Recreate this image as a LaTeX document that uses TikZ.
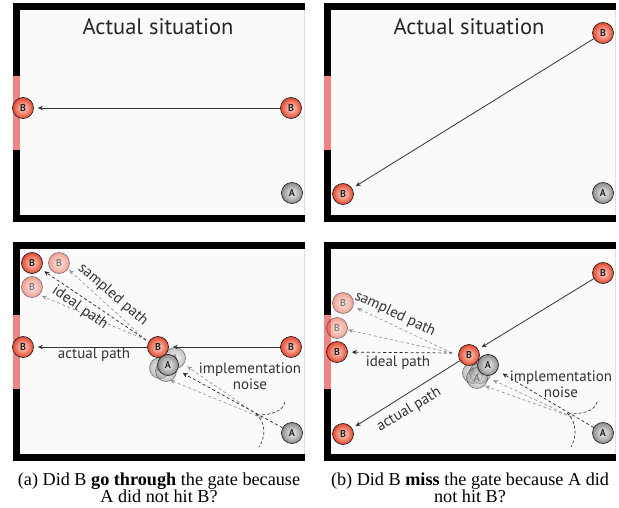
\documentclass[tikz,border=0pt]{standalone}
\usepackage{fontspec}
\setmainfont{Liberation Serif}
\newfontfamily\lab{PT Sans}
\usetikzlibrary{arrows.meta}
\definecolor{bgc}{HTML}{FAFAFA}
\definecolor{gatec}{HTML}{F08585}
\definecolor{Bin}{HTML}{FDDDD2}
\definecolor{Bout}{HTML}{E8452B}
\definecolor{Ain}{HTML}{F2F2F2}
\definecolor{Aout}{HTML}{8C8C8C}
\tikzset{
  ball/.style={circle, minimum size=21pt, inner sep=0pt, draw=black!85, line width=0.7pt,
    font=\lab\bfseries\fontsize{10}{10}\selectfont, text=black!85},
  bball/.style={ball, shading=radial, inner color=Bin, outer color=Bout},
  aball/.style={ball, shading=radial, inner color=Ain, outer color=Aout},
  faded/.style={opacity=0.5},
  solidarrow/.style={draw=black!80, line width=0.8pt, -{Stealth[length=5pt,width=4.5pt]}, shorten >=4pt},
  dblack/.style={draw=black!85, line width=0.7pt, dash pattern=on 3pt off 2.5pt, -{Stealth[length=5pt,width=4.5pt]}},
  dgray/.style={draw=black!40, line width=0.7pt, dash pattern=on 3pt off 2.5pt, -{Stealth[length=5pt,width=4.5pt]}},
  noisec/.style={draw=black!85, line width=0.6pt, dash pattern=on 3pt off 2pt},
  title/.style={font=\lab\fontsize{22.5}{22.5}\selectfont, text=black!85},
  lbl/.style={font=\lab\fontsize{15}{16}\selectfont, text=black!80, inner sep=0pt},
  captxt/.style={font=\fontsize{18.2}{17.5}\selectfont, align=center, inner sep=0pt}
}
\begin{document}
\begin{tikzpicture}[x=1pt,y=-1pt]
\useasboundingbox (0,0) rectangle (619,508);
% frames
\foreach \ox/\oy in {0/0, 311/0, 0/239, 311/239}{
  \fill[black] (13+\ox,3+\oy) rectangle (305+\ox,222+\oy);
  \fill[bgc] (20+\ox,10+\oy) rectangle (305+\ox,215+\oy);
  \fill[gatec] (13+\ox,76+\oy) rectangle (20+\ox,150+\oy);
  \draw[black!12, line width=0.6pt] (304+\ox,10+\oy) -- (304+\ox,215+\oy);
}
% ---------- panel (a) top ----------
\node[title] (ta) at (158,27) {Actual situation};
\node[bball] (a1s) at (291,108) {B};
\node[bball] (a1e) at (23,108) {B};
\node[aball] (a1a) at (292,193) {A};
\draw[solidarrow] (a1s) -- (a1e);
% ---------- panel (b) top ----------
\node[title] (tb) at (469,27) {Actual situation};
\node[bball] (b1s) at (603,33) {B};
\node[bball] (b1e) at (343,194) {B};
\node[aball] (b1a) at (603,193) {A};
\draw[solidarrow] (b1s) -- (b1e);
% ---------- panel (a) bottom ----------
\node[aball, faded] (a2g1) at (175,358) {A};
\node[aball, faded] (a2g2) at (160,368) {A};
\node[aball, faded] (a2g3) at (166,371) {A};
\node[aball] (a2ac) at (168,365) {A};
\node[bball] (a2c) at (158,347) {B};
\node[bball] (a2r) at (291,347) {B};
\node[bball] (a2l) at (23,347) {B};
\node[bball] (a2i) at (32,263) {B};
\node[bball, faded] (a2f1) at (59,263) {B};
\node[bball, faded] (a2f2) at (32,287) {B};
\node[aball] (a2a) at (292,433) {A};
\coordinate (a2p) at (146,340);
\coordinate (a2q) at (262,418);
\coordinate (a2t1) at (69,270);
\coordinate (a2t2) at (42,296);
\coordinate (a2t3) at (170,380);
\draw[solidarrow] (a2r) -- (a2c);
\draw[solidarrow] (a2c) -- (a2l);
\draw[dgray] (a2p) -- (a2t1);
\draw[dgray] (a2p) -- (a2t2);
\draw[dblack, shorten >=4pt] (a2p) -- (a2i);
\draw[dgray, shorten >=4pt] (a2q) -- (a2g1);
\draw[dgray] (a2q) -- (a2t3);
\draw[dblack, shorten >=6pt] (a2a) -- (a2ac);
\draw[noisec] (285,402) .. controls (283,411) and (272,415) .. (257,415);
\draw[noisec] (256,414) .. controls (266,423) and (266,436) .. (259,447);
\node[lbl, rotate=-41] (la1) at (113,295) {sampled path};
\node[lbl, rotate=-35] (la2) at (80,308) {ideal path};
\node[lbl] (la3) at (94,355) {actual path};
\node[lbl, align=center] (la4) at (250,376) {implementation\\noise};
% ---------- panel (b) bottom ----------
\node[aball, faded] (b2g1) at (473,373) {A};
\node[aball, faded] (b2g2) at (480,373) {A};
\node[aball, faded] (b2g3) at (477,378) {A};
\node[aball] (b2ac) at (488,365) {A};
\node[bball] (b2c) at (469,355) {B};
\node[bball] (b2r) at (603,273) {B};
\node[bball] (b2l) at (343,434) {B};
\node[bball] (b2i) at (337,352) {B};
\node[bball, faded] (b2f1) at (343,303) {B};
\node[bball, faded] (b2f2) at (337,328) {B};
\node[aball] (b2a) at (603,433) {A};
\coordinate (b2p) at (452,353);
\coordinate (b2q) at (572,417);
\coordinate (b2t1) at (357,308);
\coordinate (b2t2) at (348,330);
\coordinate (b2t3) at (493,380);
\coordinate (b2t4) at (485,386);
\draw[solidarrow] (b2r) -- (b2c);
\draw[solidarrow] (b2c) -- (b2l);
\draw[dgray] (b2p) -- (b2t1);
\draw[dgray] (b2p) -- (b2t2);
\draw[dblack, shorten >=4pt] (b2p) -- (b2i);
\draw[dgray] (b2q) -- (b2t3);
\draw[dgray] (b2q) -- (b2t4);
\draw[dblack, shorten >=6pt] (b2a) -- (b2ac);
\draw[noisec] (597,402) .. controls (595,411) and (583,414) .. (568,414);
\draw[noisec] (567,413) .. controls (577,422) and (577,436) .. (571,447);
\node[lbl, rotate=-25] (lb1) at (395,314) {sampled path};
\node[lbl] (lb2) at (398,363) {ideal path};
\node[lbl, rotate=31] (lb3) at (409,410) {actual path};
\node[lbl, align=center] (lb4) at (561,384) {implementation\\noise};
% captions
\node[captxt] (capa) at (159,488) {(a) Did B \textbf{go through} the gate because\\A did not hit B?};
\node[captxt] (capb) at (470,488) {(b) Did B \textbf{miss} the gate because A did\\not hit B?};
\end{tikzpicture}
\end{document}
